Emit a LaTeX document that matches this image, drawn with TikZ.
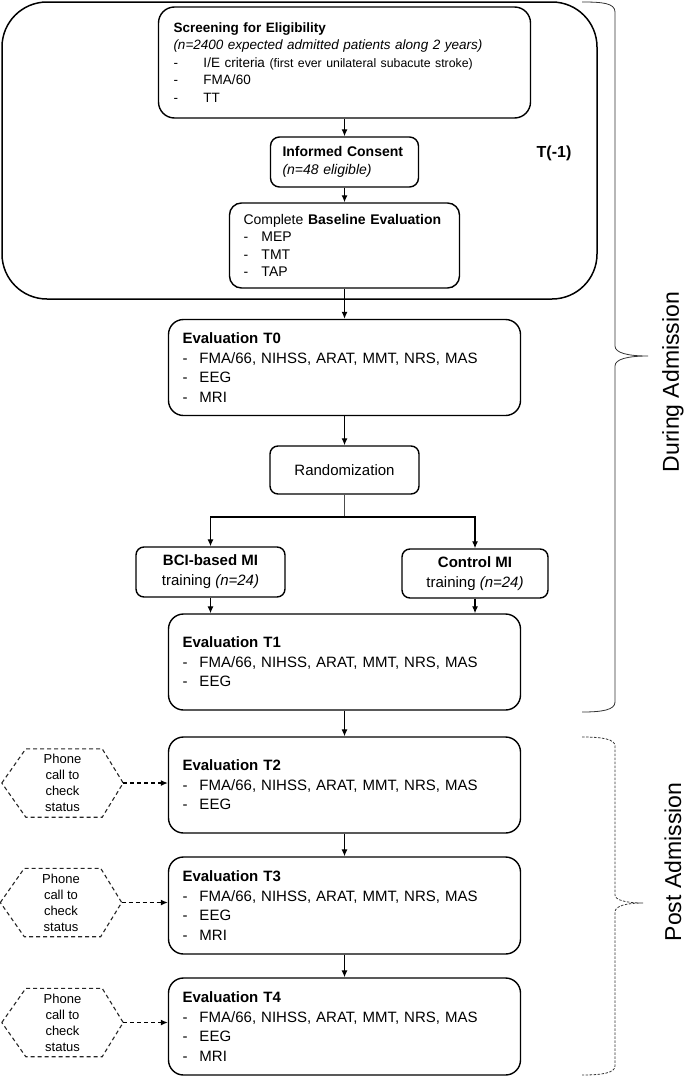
\documentclass[tikz,border=0pt]{standalone}
\usepackage{fontspec}
\setmainfont{Liberation Sans}
\usetikzlibrary{arrows.meta}
\begin{document}
\begin{tikzpicture}[x=1pt,y=-1pt,
  every node/.style={text=black},
  rbox/.style={draw=black, line width=1.4pt, align=left, inner ysep=0pt},
  evalbox/.style={rbox, rounded corners=15pt, minimum width=352pt, minimum height=96pt,
    text width=324pt, inner xsep=14pt, font=\fontsize{15}{19.5}\selectfont},
  smallbox/.style={rbox, rounded corners=8pt, align=center, inner xsep=4pt,
    font=\fontsize{15}{20}\selectfont},
  hexbox/.style={minimum width=121pt, minimum height=68pt, inner sep=0pt, align=center,
    font=\fontsize{13}{16}\selectfont},
  hexline/.style={draw=black!85, line width=1.1pt, dash pattern=on 4pt off 3pt},
  arr/.style={-{Latex[length=7pt,width=6pt]}, line width=1.2pt, draw=black},
  darr/.style={arr, dash pattern=on 4pt off 3pt},
  thinline/.style={line width=0.6pt, draw=black!70},
  brace/.style={line width=0.8pt, draw=black!80},
  dbrace/.style={brace, dash pattern=on 2.5pt off 1.5pt},
  sidelabel/.style={rotate=90, font=\fontsize{23}{26}\selectfont}
]
\useasboundingbox (0,0) rectangle (685,1076);

% T(-1) group
\node[draw=black, line width=1.5pt, rounded corners=45pt, minimum width=595pt, minimum height=297pt] (pre) at (299.5,150.5) {};
\node[rbox, rounded corners=16pt, minimum width=372pt, minimum height=111pt, text width=342pt, inner xsep=15pt,
  font=\fontsize{13.5}{17.5}\selectfont] (screen) at (344.5,62.5)
  {\textbf{Screening for Eligibility}\\
   \textit{(n=2400 expected admitted patients along 2 years)}\\
   \makebox[30pt][l]{-}I/E criteria {\fontsize{12.3}{17.5}\selectfont (first ever unilateral subacute stroke)}\\
   \makebox[30pt][l]{-}FMA/60\\
   \makebox[30pt][l]{-}TT};
\node[rbox, rounded corners=9pt, minimum width=148pt, minimum height=50pt, text width=124pt, inner xsep=12pt,
  font=\fontsize{14}{18}\selectfont] (consent) at (344.5,162)
  {\textbf{Informed Consent}\\\textit{(n=48 eligible)}};
\node[rbox, rounded corners=12pt, minimum width=230pt, minimum height=85pt, text width=202pt, inner xsep=14pt,
  font=\fontsize{14}{17.5}\selectfont] (baseline) at (344.5,245.5)
  {Complete \textbf{Baseline Evaluation}\\
   \makebox[18pt][l]{-}MEP\\
   \makebox[18pt][l]{-}TMT\\
   \makebox[18pt][l]{-}TAP};
\node[font=\bfseries\fontsize{16}{19}\selectfont] (tm1) at (554,153) {T(-1)};

% Evaluations
\node[evalbox] (t0) at (344.5,367.5)
  {\textbf{Evaluation T0}\\
   \makebox[17pt][l]{-}FMA/66, NIHSS, ARAT, MMT, NRS, MAS\\
   \makebox[17pt][l]{-}EEG\\
   \makebox[17pt][l]{-}MRI};
\node[smallbox, minimum width=149pt, minimum height=48pt] (rand) at (344.5,470) {Randomization};
\coordinate (split) at (344.5,517);
\node[smallbox, minimum width=149pt, minimum height=50pt] (bci) at (210.5,572)
  {\textbf{BCI-based MI}\\training \textit{(n=24)}};
\node[smallbox, minimum width=146pt, minimum height=49pt] (ctrl) at (475,573.5)
  {\textbf{Control MI}\\training \textit{(n=24)}};
\node[evalbox] (t1) at (344.5,662)
  {\textbf{Evaluation T1}\\
   \makebox[17pt][l]{-}FMA/66, NIHSS, ARAT, MMT, NRS, MAS\\
   \makebox[17pt][l]{-}EEG};
\node[evalbox] (t2) at (344.5,785)
  {\textbf{Evaluation T2}\\
   \makebox[17pt][l]{-}FMA/66, NIHSS, ARAT, MMT, NRS, MAS\\
   \makebox[17pt][l]{-}EEG};
\node[evalbox, minimum height=97pt] (t3) at (344.5,905.5)
  {\textbf{Evaluation T3}\\
   \makebox[17pt][l]{-}FMA/66, NIHSS, ARAT, MMT, NRS, MAS\\
   \makebox[17pt][l]{-}EEG\\
   \makebox[17pt][l]{-}MRI};
\node[evalbox, minimum height=97pt] (t4) at (344.5,1026.5)
  {\textbf{Evaluation T4}\\
   \makebox[17pt][l]{-}FMA/66, NIHSS, ARAT, MMT, NRS, MAS\\
   \makebox[17pt][l]{-}EEG\\
   \makebox[17pt][l]{-}MRI};

% Phone hexagons
\node[hexbox] (h1) at (62.5,783) {Phone\\call to\\check\\status};
\node[hexbox] (h2) at (61,902.5) {Phone\\call to\\check\\status};
\node[hexbox] (h3) at (62.5,1022.5) {Phone\\call to\\check\\status};
\foreach \h in {h1,h2,h3}{
  \draw[hexline] (\h.west) -- ([xshift=24pt]\h.north west) -- ([xshift=-21pt]\h.north east)
    -- (\h.east) -- ([xshift=-21pt]\h.south east) -- ([xshift=24pt]\h.south west) -- cycle;
}

% Connectors
\draw[arr] (screen) -- (consent);
\draw[arr] (consent) -- (baseline);
\draw[arr] (baseline) -- (t0);
\draw[arr] (t0) -- (rand);
\draw[thinline] (rand) -- (split);
\draw[arr] (split) -| (bci);
\draw[arr] (split) -| (ctrl);
\draw[arr] (bci.south) -- (bci.south |- t1.north);
\draw[arr] (ctrl.south) -- (ctrl.south |- t1.north);
\draw[arr] (t1) -- (t2);
\draw[arr] (t2) -- (t3);
\draw[arr] (t3) -- (t4);
\draw[darr] (h1.east) -- (h1.east -| t2.west);
\draw[darr] (h2.east) -- (h2.east -| t3.west);
\draw[darr] (h3.east) -- (h3.east -| t4.west);

% Braces
\draw[brace] (582,2) .. controls (602,2) and (615,3) .. (615,12) -- (615,346)
  .. controls (615,353) and (628,356) .. (648,356)
  .. controls (628,356) and (615,359) .. (615,366) -- (615,702)
  .. controls (615,710) and (602,712) .. (582,712);
\node[sidelabel] (during) at (673,382) {During Admission};
\draw[dbrace] (582,737) .. controls (602,737) and (615,739) .. (615,746) -- (615,895)
  .. controls (615,900) and (626,903) .. (643,903)
  .. controls (626,903) and (615,906) .. (615,912) -- (615,1066)
  .. controls (615,1073) and (602,1075) .. (582,1075);
\node[sidelabel] (post) at (673,862) {Post Admission};
\end{tikzpicture}
\end{document}
